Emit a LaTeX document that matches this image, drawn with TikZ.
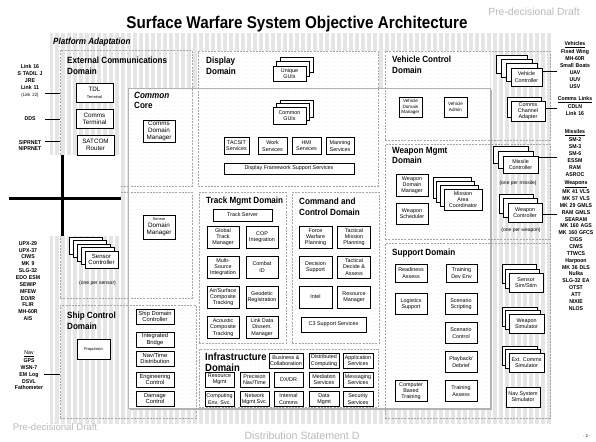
\documentclass[tikz,border=0pt]{standalone}
\usepackage{fontspec}
\setmainfont{Liberation Sans}
\newfontfamily\narrowfont[FakeStretch=0.9]{Liberation Sans}
\newfontfamily\titlefont[FakeStretch=0.895]{Liberation Sans}
\newfontfamily\listfont[FakeStretch=0.92]{Liberation Sans}
\usetikzlibrary{shadows,patterns.meta}
\newcommand{\domfont}{\fontsize{9}{10.5}\selectfont\narrowfont\bfseries}
\newcommand{\boxfont}{\fontsize{5.4}{6.2}\selectfont}
\newcommand{\lstfont}{\fontsize{5.6}{6.85}\selectfont\listfont\bfseries}
\newcommand{\tinyfont}{\fontsize{4}{5}\selectfont}
\begin{document}
\begin{tikzpicture}[x=1pt, y=-1pt,
	box/.style={draw, fill=white, line width=0.8pt, align=center, inner sep=0pt,
		minimum width=32pt, minimum height=22pt, font=\boxfont,
		drop shadow={shadow xshift=0.6pt, shadow yshift=-0.6pt, fill=black, opacity=1}},
	stackat/.style args={#1/#2}{copy shadow={shadow xshift=#1, shadow yshift=#2,
		fill=white, draw=black, line width=0.8pt}},
	regionbox/.style={draw=gray!70, dash pattern=on 2pt off 1.2pt, line width=0.5pt,
		anchor=north west, inner sep=0pt},
	domlabel/.style={anchor=north west, inner sep=0pt, align=left, font=\domfont},
	dotsfill/.style={preaction={fill=white}, pattern={Dots[distance=4pt, radius=0.3pt]},
		pattern color=gray!35},
	lst/.style={align=center, inner sep=0pt, text width=30pt, font=\lstfont},
	note/.style={inner sep=0pt, font=\fontsize{5}{6}\selectfont},
	footer/.style={inner sep=0pt, text=gray!55},
	link/.style={line width=0.8pt}]
	\useasboundingbox (0,0) rectangle (596,441);
	\fill[gray!20] (50,33) rectangle (552,424);
	\draw[white, line width=1.2pt, step=6] (50,33) grid (552,424);
	\node[anchor=base, font=\fontsize{17}{20}\selectfont\titlefont\bfseries] (title) at (297,28.3) {Surface Warfare System Objective Architecture};
	\node[domlabel, font=\domfont\itshape] (platlbl) at (53,38) {Platform Adaptation};

	\node[regionbox, draw=none, minimum width=180pt, minimum height=135pt, dotsfill] (dispbg) at (198,51) {};
	\node[regionbox, draw=none, minimum width=105pt, minimum height=89pt, dotsfill] (vehbg) at (385,51) {};
	\node[anchor=north west, inner sep=0pt, minimum width=362pt, minimum height=320pt, draw=gray!60, line width=0.6pt,
		drop shadow={shadow xshift=1.5pt, shadow yshift=-1.5pt, fill=gray!60, opacity=1}, dotsfill] (core) at (128,88) {};

	\node[regionbox, minimum width=132pt, minimum height=136pt] (extcomm) at (60,50) {};
	\node[regionbox, minimum width=132pt, minimum height=106pt] (sensdom) at (60,192) {};
	\node[regionbox, minimum width=136pt, minimum height=113pt] (shipdom) at (60,305) {};
	\node[regionbox, minimum width=180pt, minimum height=135pt] (display) at (198,51) {};
	\node[regionbox, minimum width=87pt, minimum height=151pt] (trackdom) at (199,192) {};
	\node[regionbox, minimum width=87pt, minimum height=151pt] (c2dom) at (292,192) {};
	\node[regionbox, minimum width=179pt, minimum height=58pt] (infradom) at (199,349) {};
	\node[regionbox, minimum width=165pt, minimum height=89pt] (vehdom) at (385,51) {};
	\node[regionbox, minimum width=165pt, minimum height=95pt] (wpndom) at (385,144) {};
	\node[regionbox, minimum width=165pt, minimum height=175pt] (suppdom) at (385,243) {};

	\fill[white] (0,155) rectangle (121,236);
	\coordinate (crossN) at (62,155);
	\coordinate (crossS) at (62,236);
	\coordinate (crossW) at (9,198);
	\coordinate (crossE) at (121,198);
	\draw[line width=3pt] (crossN) -- (crossS);
	\draw[line width=3pt] (crossW) -- (crossE);

	\node[domlabel] (extlbl) at (67,57) {External Communications\\Domain};
	\node[domlabel] (displbl) at (206,57) {Display\\Domain};
	\node[domlabel] (vehlbl) at (392,56) {Vehicle Control\\Domain};
	\node[domlabel] (corelbl) at (134,92) {{\itshape Common}\\Core};
	\node[domlabel] (tracklbl) at (206,197) {Track Mgmt Domain};
	\node[domlabel] (c2lbl) at (299,198) {Command and\\Control Domain};
	\node[domlabel, font=\fontsize{10.5}{11}\selectfont\narrowfont\bfseries] (infralbl) at (205,353) {Infrastructure\\Domain};
	\node[domlabel] (shiplbl) at (67,312) {Ship Control\\Domain};
	\node[domlabel] (wpnlbl) at (392,147) {Weapon Mgmt\\Domain};
	\node[domlabel] (supplbl) at (392,249) {Support Domain};

	\node[box, minimum width=37pt, minimum height=19pt, font=\fontsize{6.3}{7}\selectfont] (tdl) at (94.5,92.5) {TDL\\{\tinyfont Terminal}};
	\node[box, minimum width=37pt, minimum height=19pt, font=\fontsize{6.3}{7}\selectfont] (commterm) at (94.5,118.5) {Comms\\Terminal};
	\node[box, minimum width=37pt, minimum height=20pt, font=\fontsize{6.3}{7}\selectfont] (satcom) at (95.5,145) {SATCOM\\Router};
	\node[box, font=\fontsize{6.3}{7}\selectfont] (commdm) at (159,131) {Comms\\Domain\\Manager};
	\node[box, minimum height=24pt, font=\fontsize{6.3}{7}\selectfont] (sensdm) at (159,227) {{\tinyfont Sensor}\\Domain\\Manager};
	\node[box, minimum width=33pt, minimum height=17pt, font=\fontsize{6}{6.8}\selectfont,
		stackat={-16pt/14pt}, stackat={-12pt/10.5pt}, stackat={-8pt/7pt}, stackat={-4pt/3.5pt}] (sensctl) at (101.5,259.5) {Sensor\\Controller};
	\node[note] (persensor) at (97.5,283) {(one per sensor)};

	\node[box, minimum width=33pt, minimum height=15pt, stackat={7pt/9pt}, stackat={3.5pt/4.5pt}] (uniqgui) at (289.5,73.5) {Unique\\GUIs};
	\node[box, minimum width=33pt, minimum height=17pt, stackat={7pt/7pt}, stackat={3.5pt/3.5pt}] (commgui) at (289.5,115.5) {Common\\GUIs};
	\node[box, minimum width=25pt, minimum height=17pt] (tacsit) at (236.5,146) {TACSIT\\Services};
	\node[box, minimum width=29pt, minimum height=17pt] (work) at (272.5,146) {Work\\Services};
	\node[box, minimum width=29pt, minimum height=17pt] (hmi) at (306.5,146) {HMI\\Services};
	\node[box, minimum width=28pt, minimum height=17pt] (manning) at (340,146) {Manning\\Services};
	\node[box, minimum width=130pt, minimum height=11pt] (dfss) at (289,168.5) {Display Framework Support Services};

	\node[box, minimum width=59pt, minimum height=12pt] (trackserver) at (242.5,215) {Track Server};
	\node[box] (gtm) at (223,237) {Global\\Track\\Manager};
	\node[box] (cop) at (262,237) {COP\\Integration};
	\node[box] (msi) at (223,267) {Multi-\\Source\\Integration};
	\node[box] (cid) at (262,267) {Combat\\ID};
	\node[box] (ascomp) at (223,297) {Air/Surface\\Composite\\Tracking};
	\node[box] (geo) at (262,297) {Geodetic\\Registration};
	\node[box] (acomp) at (223,327.5) {Acoustic\\Composite\\Tracking};
	\node[box] (ldd) at (262,327.5) {Link Data\\Dissem.\\Manager};

	\node[box, minimum width=33pt] (fwp) at (315.5,237) {Force\\Warfare\\Planning};
	\node[box, minimum width=33pt] (tmp) at (354,237) {Tactical\\Mission\\Planning};
	\node[box, minimum width=33pt] (dsup) at (315.5,267) {Decision\\Support};
	\node[box, minimum width=33pt] (tda) at (354,267) {Tactical\\Decide \&\\Assess};
	\node[box, minimum width=33pt] (intel) at (315.5,297) {Intel};
	\node[box, minimum width=33pt] (resmgr) at (354,297) {Resource\\Manager};
	\node[box, minimum width=65pt, minimum height=15pt] (c3) at (333.5,324.5) {C3 Support Services};

	\node[box, minimum width=34pt, minimum height=15pt] (bus) at (286,360.5) {Business \&\\Collaboration};
	\node[box, minimum width=30pt, minimum height=15pt] (dist) at (324,360.5) {Distributed\\Computing};
	\node[box, minimum width=30pt, minimum height=15pt] (appl) at (358,360.5) {Application\\Services};
	\node[box, minimum width=29pt, minimum height=15pt] (resm) at (219.5,379.5) {Resource\\Mgmt};
	\node[box, minimum width=29pt, minimum height=15pt] (pnt) at (254.5,379.5) {Precision\\Nav/Time};
	\node[box, minimum width=29pt, minimum height=15pt] (dxdr) at (288.5,379.5) {DX/DR};
	\node[box, minimum width=30pt, minimum height=15pt] (med) at (324,379.5) {Mediation\\Services};
	\node[box, minimum width=30pt, minimum height=15pt] (msg) at (358,379.5) {Messaging\\Services};
	\node[box, minimum width=29pt, minimum height=15pt] (ces) at (219.5,399) {Computing\\Env. Svc.};
	\node[box, minimum width=29pt, minimum height=15pt] (nms) at (254.5,399) {Network\\Mgmt Svc.};
	\node[box, minimum width=29pt, minimum height=15pt] (icom) at (288.5,399) {Internal\\Comms};
	\node[box, minimum width=30pt, minimum height=15pt] (dmgmt) at (324,399) {Data\\Mgmt};
	\node[box, minimum width=30pt, minimum height=15pt] (sec) at (358,399) {Security\\Services};

	\node[box, minimum width=33pt, minimum height=20pt] (prop) at (93.5,349) {{\tinyfont Propulsion}};
	\node[box, minimum width=38pt, minimum height=15pt, font=\fontsize{5.8}{6.6}\selectfont] (sdc) at (155,316.5) {Ship Domain\\Controller};
	\node[box, minimum width=38pt, minimum height=15pt, font=\fontsize{5.8}{6.6}\selectfont] (ibr) at (155,339.5) {Integrated\\Bridge};
	\node[box, minimum width=38pt, minimum height=15pt, font=\fontsize{5.8}{6.6}\selectfont] (ntd) at (155,358.5) {Nav/Time\\Distribution};
	\node[box, minimum width=38pt, minimum height=15pt, font=\fontsize{5.8}{6.6}\selectfont] (eng) at (155,379.5) {Engineering\\Control};
	\node[box, minimum width=38pt, minimum height=15pt, font=\fontsize{5.8}{6.6}\selectfont] (dmg) at (155,398.5) {Damage\\Control};

	\node[box, minimum width=23pt, minimum height=20pt, font=\fontsize{4.6}{5.6}\selectfont] (vdm) at (410.5,107) {Vehicle\\Domain\\Manager};
	\node[box, minimum width=23pt, minimum height=20pt, font=\fontsize{4.6}{5.6}\selectfont] (vadm) at (455.5,107) {Vehicle\\Admin};
	\node[box, minimum width=31pt, minimum height=18pt, stackat={-15pt/13pt}, stackat={-10pt/8.7pt}, stackat={-5pt/4.3pt}] (vehctl) at (526.5,77) {Vehicle\\Controller};
	\node[box, minimum width=34pt, minimum height=20pt, stackat={-4pt/4pt}] (cca) at (528,111) {Comms\\Channel\\Adapter};

	\node[box] (wdm) at (412,185) {Weapon\\Domain\\Manager};
	\node[box, minimum height=21pt] (wsch) at (412,213.5) {Weapon\\Scheduler};
	\node[box, minimum width=38pt, minimum height=21pt, stackat={-11pt/12pt}, stackat={-7.4pt/8pt}, stackat={-3.7pt/4pt}] (mac) at (463,199.5) {Mission\\Area\\Coordinator};
	\node[box, minimum width=35pt, minimum height=17pt, stackat={-10pt/10pt}, stackat={-5pt/5pt}] (misctl) at (520.5,164.5) {Missile\\Controller};
	\node[note] (permissile) at (518,183) {(one per missile)};
	\node[box, minimum width=34pt, minimum height=19pt, stackat={-9pt/9pt}, stackat={-4.5pt/4.5pt}] (wpnctl) at (525,212.5) {Weapon\\Controller};
	\node[note] (perweapon) at (521,230) {(one per weapon)};

	\node[box, minimum height=18pt] (ready) at (411,273) {Readiness\\Assess};
	\node[box, minimum width=31pt, minimum height=18pt] (tde) at (461.5,273) {Training\\Dev Env};
	\node[box, minimum height=21pt] (logi) at (411,304) {Logistics\\Support};
	\node[box, minimum height=21pt] (sscript) at (461,304) {Scenario\\Scripting};
	\node[box, minimum height=21pt] (sctl) at (461,333) {Scenario\\Control};
	\node[box, minimum height=21pt] (play) at (461,362) {Playback/\\Debrief};
	\node[box, minimum height=21pt] (tassess) at (461,391) {Training\\Assess};
	\node[box, minimum height=21pt] (cbt) at (411,391) {Computer\\Based\\Training};
	\node[box, minimum width=34pt, minimum height=19pt, stackat={-7pt/9pt}, stackat={-3.5pt/4.5pt}] (senssim) at (526,283) {Sensor\\Sim/Stim};
	\node[box, minimum width=35pt, minimum height=19pt, stackat={-7pt/7pt}, stackat={-3.5pt/3.5pt}] (wsim) at (526.5,323.5) {Weapon\\Simulator};
	\node[box, minimum width=35pt, minimum height=19pt, stackat={-7pt/7pt}, stackat={-3.5pt/3.5pt}] (ecsim) at (526.5,362.5) {Ext. Comms\\Simulator};
	\node[box, minimum width=34pt, minimum height=20pt] (navsim) at (523,397) {Nav System\\Simulator};

	\node[lst] (links) at (30,81) {Link 16\\S TADIL J\\JRE\\Link 11\\{\mdseries\fontsize{4.6}{6.85}\selectfont (Link 22)}};
	\node[lst] (dds) at (30,119) {DDS};
	\node[lst] (sipr) at (30,145.5) {SIPRNET\\NIPRNET};
	\node[lst] (sensors) at (28,281) {UPX-29\\UPX-37\\CIWS\\MK 9\\SLG-32\\EDO ESM\\SEWIP\\MFEW\\EO/IR\\FLIR\\MH-60R\\AIS};
	\node[lst] (nav) at (29,370.5) {{\mdseries\underline{Nav}}\\[0.8pt]GPS\\WSN-7\\EM Log\\DSVL\\Fathometer};
	\node[lst, text width=36pt] (vehlist) at (575,65) {\underline{Vehicles}\\[1pt]Fixed Wing\\MH-60R\\Small Boats\\UAV\\UUV\\USV};
	\node[lst, text width=36pt] (commlinks) at (575,106) {\underline{Comms Links}\\[1pt]CDLN\\Link 16};
	\node[lst, text width=36pt] (missiles) at (575,153) {\underline{Missiles}\\[1pt]SM-2\\SM-3\\SM-6\\ESSM\\RAM\\ASROC};
	\node[lst, text width=38pt] (weapons) at (576,245.5) {\underline{Weapons}\\[1pt]MK 41 VLS\\MK 57 VLS\\MK 29 GMLS\\RAM GMLS\\SEARAM\\MK 160 AGS\\MK 160 GFCS\\CIGS\\CIWS\\TTWCS\\Harpoon\\MK 36 DLS\\Nulka\\SLG-32 EA\\OTST\\ATT\\NIXIE\\NLOS};

	\draw[link] ([yshift=-12pt]links.east) -- ([yshift=-12pt]links.east -| extcomm.west);
	\draw[link] (dds.east) -- (dds.east -| extcomm.west);
	\draw[link] ([yshift=4.5pt]sipr.east) -- ([yshift=4.5pt]sipr.east -| extcomm.west);
	\draw[link] ([yshift=-3.5pt]nav.east) -- ([yshift=-3.5pt]nav.east -| shipdom.west);
	\draw[link] ([yshift=6pt]vehctl.east) -- ([yshift=6pt]vehctl.east -| vehlist.west);
	\draw[link] ([yshift=3pt]cca.east) -- ([yshift=3pt]cca.east -| commlinks.west);
	\draw[link] ([yshift=7.5pt]misctl.east) -- ([yshift=7.5pt]misctl.east -| missiles.west);
	\draw[link] ([yshift=-1.5pt]wpnctl.east) -- ([yshift=-1.5pt]wpnctl.east -| weapons.west);

	\node[footer, font=\fontsize{10.4}{12}\selectfont] (drafttop) at (534,12) {Pre-decisional Draft};
	\node[footer, font=\fontsize{9.6}{11}\selectfont] (draftbot) at (55,427) {Pre-decisional Draft};
	\node[footer, font=\fontsize{10.6}{12}\selectfont] (diststmt) at (302,435.5) {Distribution Statement D};
	\node[inner sep=0pt, font=\fontsize{4}{5}\selectfont] (pagenum) at (587,436) {- 2 -};
\end{tikzpicture}
\end{document}
